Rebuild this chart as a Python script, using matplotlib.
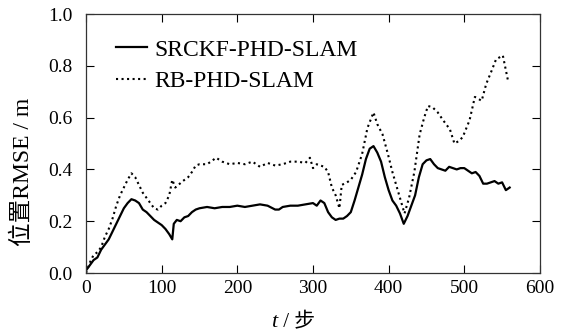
import matplotlib.pyplot as plt

plt.rcParams['font.family'] = ['Liberation Serif', 'Noto Sans CJK SC']

# SRCKF-PHD-SLAM (solid)
x_srckf = [0, 5, 10, 15, 20, 25, 30, 35, 40, 45, 50, 55, 60, 65, 70, 75, 80, 85, 90, 95,
           100, 105, 110, 114, 116, 120, 125, 130, 135, 140, 145, 150, 160, 170, 180, 190,
           200, 210, 220, 230, 240, 250, 255, 260, 270, 280, 290, 300, 305, 310, 315, 320,
           325, 330, 335, 340, 345, 350, 355, 360, 365, 370, 375, 380, 385, 390, 395, 400,
           405, 410, 415, 420, 425, 430, 435, 440, 445, 450, 455, 460, 465, 470, 475, 480,
           485, 490, 495, 500, 505, 510, 515, 520, 525, 530, 535, 540, 545, 550, 555, 560]
y_srckf = [0.01, 0.03, 0.05, 0.06, 0.09, 0.11, 0.13, 0.16, 0.19, 0.22, 0.25, 0.27, 0.285,
           0.28, 0.27, 0.245, 0.235, 0.22, 0.205, 0.195, 0.185, 0.17, 0.15, 0.13, 0.19, 0.205,
           0.20, 0.215, 0.22, 0.235, 0.245, 0.25, 0.255, 0.25, 0.255, 0.255, 0.26, 0.255, 0.26,
           0.265, 0.26, 0.245, 0.245, 0.255, 0.26, 0.26, 0.265, 0.27, 0.26, 0.28, 0.27, 0.235,
           0.215, 0.205, 0.21, 0.21, 0.22, 0.235, 0.28, 0.33, 0.38, 0.44, 0.48, 0.49, 0.465,
           0.43, 0.37, 0.32, 0.28, 0.26, 0.23, 0.19, 0.22, 0.26, 0.30, 0.37, 0.42, 0.435, 0.44,
           0.42, 0.405, 0.40, 0.395, 0.41, 0.405, 0.40, 0.405, 0.405, 0.395, 0.385, 0.39,
           0.375, 0.345, 0.345, 0.35, 0.355, 0.345, 0.35, 0.32, 0.33]

# RB-PHD-SLAM (dotted)
x_rb = [0, 5, 10, 15, 20, 25, 30, 35, 40, 45, 50, 55, 60, 65, 70, 75, 80, 85, 90, 95, 100,
        105, 110, 114, 118, 122, 128, 135, 140, 145, 150, 160, 165, 172, 180, 190, 200, 210,
        220, 230, 240, 250, 260, 270, 280, 290, 296, 300, 305, 315, 320, 325, 330, 335, 338,
        345, 350, 357, 365, 372, 380, 385, 392, 399, 405, 414, 421, 427, 434, 441, 447, 452,
        458, 465, 472, 481, 487, 493, 498, 507, 514, 523, 529, 536, 542, 551, 558]
y_rb = [0.0, 0.04, 0.07, 0.08, 0.10, 0.14, 0.17, 0.21, 0.26, 0.30, 0.33, 0.36, 0.385, 0.37,
        0.34, 0.31, 0.29, 0.27, 0.25, 0.245, 0.26, 0.27, 0.30, 0.36, 0.33, 0.34, 0.355, 0.37,
        0.39, 0.415, 0.42, 0.42, 0.43, 0.445, 0.43, 0.42, 0.425, 0.42, 0.43, 0.41, 0.425,
        0.415, 0.42, 0.43, 0.43, 0.425, 0.445, 0.405, 0.42, 0.41, 0.39, 0.33, 0.30, 0.25,
        0.34, 0.35, 0.36, 0.39, 0.46, 0.56, 0.62, 0.575, 0.535, 0.46, 0.39, 0.30, 0.23, 0.29,
        0.39, 0.535, 0.60, 0.645, 0.64, 0.62, 0.59, 0.555, 0.50, 0.51, 0.525, 0.59, 0.68,
        0.665, 0.73, 0.78, 0.825, 0.84, 0.74]

x_ticks = [0, 100, 200, 300, 400, 500, 600]
y_ticks = [0.0, 0.2, 0.4, 0.6, 0.8, 1.0]

fig = plt.figure(figsize=(5.63, 3.34), dpi=100)
ax = fig.add_axes([0.1528, 0.1826, 0.8062, 0.7754])

ax.plot(x_srckf, y_srckf, color='black', lw=1.6, label='SRCKF-PHD-SLAM')
ax.plot(x_rb, y_rb, color='black', lw=1.5, ls=':', label='RB-PHD-SLAM')

ax.set_xlim(0, 600)
ax.set_ylim(0, 1.0)
ax.set_xticks(x_ticks)
ax.set_yticks(y_ticks)
ax.set_yticklabels(['%.1f' % v for v in y_ticks])
ax.tick_params(direction='in', length=6, width=0.8, top=True, right=True, labelsize=14)
ax.tick_params(axis='x', pad=5)
ax.tick_params(axis='y', pad=10)
for s in ax.spines.values():
    s.set_linewidth(0.9)
    s.set_color('#333333')

ax.legend(loc='upper left', bbox_to_anchor=(0.02, 0.985), frameon=False,
          fontsize=17, handlelength=1.3, handletextpad=0.3, labelspacing=0.42)

ax.set_ylabel('位置RMSE / m', fontsize=17)
ax.yaxis.set_label_coords(-0.115, 0.39)

# x label: italic t plus " / 步"
ax.text(0.42, -0.193, 't', transform=ax.transAxes, fontsize=16, style='italic',
        ha='right', va='center')
ax.text(0.422, -0.193, ' / 步', transform=ax.transAxes, fontsize=15,
        ha='left', va='center')

fig.savefig('out.png', dpi=100)
